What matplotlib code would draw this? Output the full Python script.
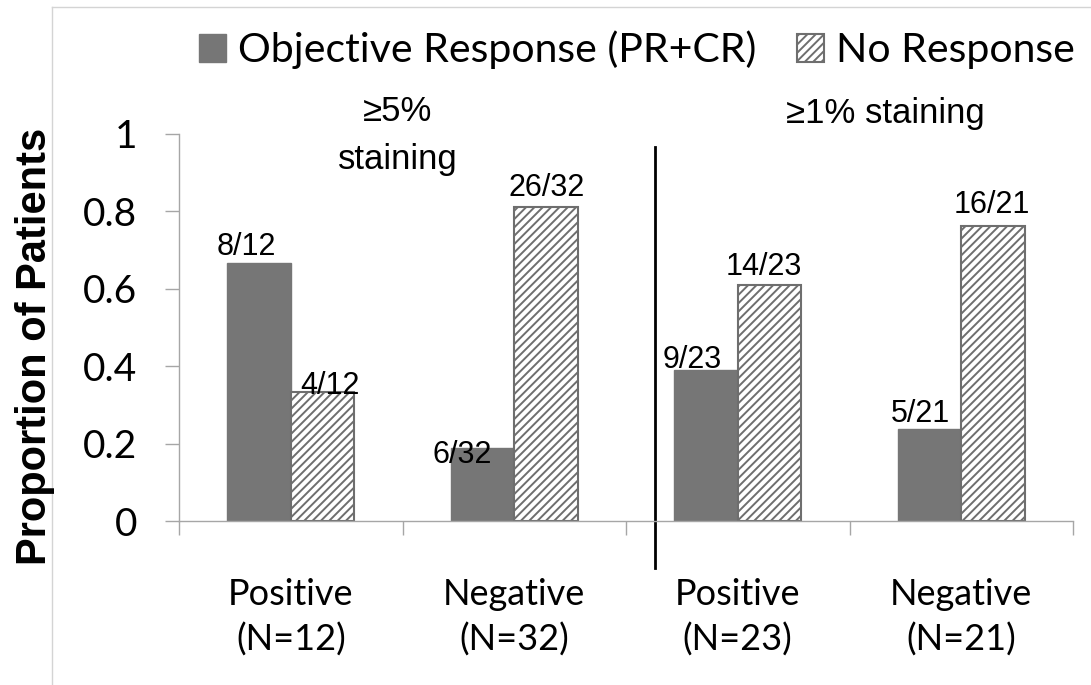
import numpy as np
import matplotlib.pyplot as plt
from matplotlib.lines import Line2D

# response counts per staining group
groups = ["Positive", "Negative", "Positive", "Negative"]
group_n = [12, 32, 23, 21]
responders = [8, 6, 9, 5]
non_responders = [4, 26, 14, 16]

resp_prop = [r / n for r, n in zip(responders, group_n)]
nonresp_prop = [r / n for r, n in zip(non_responders, group_n)]

y_ticks = [0, 0.2, 0.4, 0.6, 0.8, 1]
y_ticklabels = ["0", "0.2", "0.4", "0.6", "0.8", "1"]

# hand-placed label nudges (pixels): (dx, dy of baseline above bar top)
resp_nudge = [(-13, 8), (-20, -15), (-14, 2), (-9, 7)]
nonresp_nudge = [(7, -2), (1, 11), (-6, 10), (-1, 13)]

dark = "#767676"
edge = "#6e6e6e"
axis_gray = "#a6a6a6"
calibri_like = "Lato"
arial_like = ["Liberation Sans", "DejaVu Sans"]

plt.rcParams["hatch.linewidth"] = 1.4

W, H = 1091, 685
fig = plt.figure(figsize=(W / 100, H / 100), dpi=100)
ax = fig.add_axes([179 / W, 1 - 521 / H, (1073 - 179) / W, (521 - 134) / H])

x = np.arange(len(groups)) + 0.5
width = 0.284
b1 = ax.bar(x - width / 2, resp_prop, width, color=dark, edgecolor=dark,
            linewidth=1, label="Objective Response (PR+CR)")
b2 = ax.bar(x + width / 2, nonresp_prop, width, color="white", edgecolor=edge,
            hatch="////", linewidth=1.5, label="No Response")

px = 72 / 100  # points per pixel
for i in range(len(groups)):
    dx, dy = resp_nudge[i]
    ax.annotate(f"{responders[i]}/{group_n[i]}", (x[i] - width / 2, resp_prop[i]),
                xytext=(dx * px, dy * px), textcoords="offset points",
                ha="center", va="baseline", fontsize=22, family=arial_like)
    dx, dy = nonresp_nudge[i]
    ax.annotate(f"{non_responders[i]}/{group_n[i]}", (x[i] + width / 2, nonresp_prop[i]),
                xytext=(dx * px, dy * px), textcoords="offset points",
                ha="center", va="baseline", fontsize=22, family=arial_like)

ax.set_xlim(0, 4)
ax.set_ylim(0, 1)
ax.set_xticks([0, 1, 2, 3, 4])
ax.set_xticklabels([])
ax.set_yticks(y_ticks)
ax.set_yticklabels(y_ticklabels, fontsize=28, family=calibri_like)
ax.tick_params(axis="both", direction="out", length=10, width=1, color=axis_gray)
ax.tick_params(axis="y", pad=20)
for side in ["top", "right"]:
    ax.spines[side].set_visible(False)
for side in ["left", "bottom"]:
    ax.spines[side].set_color(axis_gray)
    ax.spines[side].set_linewidth(1)

# category labels under each group
for i in range(len(groups)):
    ax.text(x[i], -0.191, groups[i], transform=ax.get_xaxis_transform(),
            ha="center", va="center", fontsize=26, family=calibri_like)
    ax.text(x[i], -0.307, f"(N={group_n[i]})", transform=ax.get_xaxis_transform(),
            ha="center", va="center", fontsize=26, family=calibri_like)

# staining threshold headers and divider
ax.text(0.98, 1.057, "≥5%", transform=ax.get_xaxis_transform(),
        ha="center", va="center", fontsize=25, family=arial_like)
ax.text(0.98, 0.933, "staining", transform=ax.get_xaxis_transform(),
        ha="center", va="center", fontsize=25, family=arial_like)
ax.text(3.16, 1.054, "≥1% staining", transform=ax.get_xaxis_transform(),
        ha="center", va="center", fontsize=25, family=arial_like)
ax.plot([2.13, 2.13], [-0.121, 0.966], transform=ax.get_xaxis_transform(),
        color="black", linewidth=2, clip_on=False)

fig.text(35 / W, 1 - 346 / H, "Proportion of Patients", rotation=90,
         ha="center", va="center", fontsize=30, fontweight="bold", family=arial_like)

fig.legend(handles=[b1, b2], loc="center left", bbox_to_anchor=(199 / W, 1 - 50 / H),
           ncol=2, frameon=False, prop={"family": calibri_like, "size": 29.5},
           handlelength=0.65, handleheight=0.65, handletextpad=0.3, columnspacing=1.0,
           borderpad=0, borderaxespad=0)

# light frame at top and left
fig.add_artist(Line2D([52 / W, 52 / W], [0, 1 - 7 / H], transform=fig.transFigure,
                      color="#d4d4d4", linewidth=1))
fig.add_artist(Line2D([52 / W, 1], [1 - 7 / H, 1 - 7 / H], transform=fig.transFigure,
                      color="#d4d4d4", linewidth=1))

fig.savefig("out.png", dpi=100)
